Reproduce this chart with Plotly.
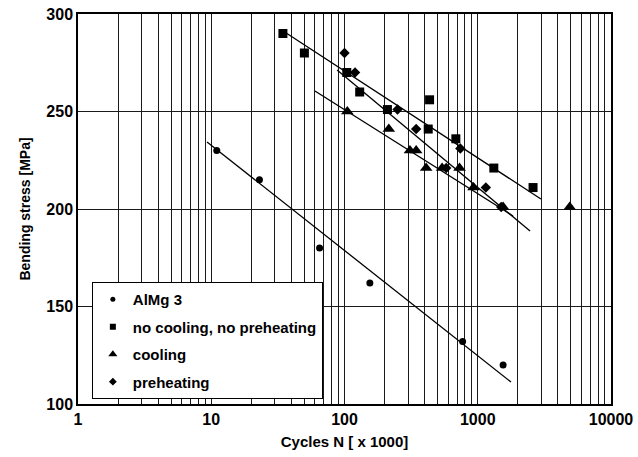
import plotly.graph_objects as go

# S-N data: cycles to failure (x1000) vs bending stress (MPa)
almg_N = [11, 23, 65, 155, 770, 1550]
almg_S = [230, 215, 180, 162, 132, 120]

nocool_N = [34.5, 50, 104, 130, 210, 435, 425, 685, 1320, 2600]
nocool_S = [290, 280, 270, 260, 251, 256, 241, 236, 221, 211]

cool_N = [105, 215, 310, 345, 410, 540, 730, 930, 1550, 4900]
cool_S = [250, 241, 230, 230, 221, 221, 221, 211, 201, 201]

pre_N = [100, 120, 250, 345, 740, 580, 1150, 1500]
pre_S = [280, 270, 251, 241, 231, 221, 211, 201]

# regression lines (end points)
fit_almg_N = [9.3, 1775]
fit_almg_S = [234.4, 111.3]
fit_nocool_N = [34.6, 2980]
fit_nocool_S = [291.3, 205.1]
fit_pre_N = [88, 2470]
fit_pre_S = [271.3, 188.7]
fit_cool_N = [60, 1840]
fit_cool_S = [260.5, 196.4]

x_decades = [1, 10, 100, 1000, 10000]
y_ticks = [100, 150, 200, 250, 300]

names = ["AlMg 3", "no cooling, no preheating", "cooling", "preheating"]
symbols = ["circle", "square", "triangle-up", "diamond"]
sizes = [7, 9, 11, 8]
legend_sizes = [5, 6, 8, 6]

FONT = "Liberation Sans, Arial, sans-serif"

fig = go.Figure()

for fx, fy in [(fit_almg_N, fit_almg_S), (fit_nocool_N, fit_nocool_S),
               (fit_pre_N, fit_pre_S), (fit_cool_N, fit_cool_S)]:
    fig.add_trace(go.Scatter(x=fx, y=fy, mode="lines",
                             line=dict(color="black", width=1.3),
                             showlegend=False, hoverinfo="skip"))

series = [(almg_N, almg_S), (nocool_N, nocool_S), (cool_N, cool_S), (pre_N, pre_S)]
for (sx, sy), nm, sym, sz in zip(series, names, symbols, sizes):
    fig.add_trace(go.Scatter(x=sx, y=sy, mode="markers", name=nm,
                             marker=dict(symbol=sym, size=sz, color="black"),
                             showlegend=False))

# legend entries with smaller symbols
for nm, sym, sz in zip(names, symbols, legend_sizes):
    fig.add_trace(go.Scatter(x=[None], y=[None], mode="markers", name=nm,
                             legendgroup=nm,
                             marker=dict(symbol=sym, size=sz, color="black")))

# log grid: every integer multiple within each decade
grid_vals = []
grid_text = []
for d in x_decades[:-1]:
    for m in range(1, 10):
        grid_vals.append(d * m)
        grid_text.append(str(d) if m == 1 else "")
grid_vals.append(x_decades[-1])
grid_text.append(str(x_decades[-1]))

fig.update_layout(
    width=638, height=457,
    margin=dict(l=78, r=27, t=14, b=53),
    paper_bgcolor="white", plot_bgcolor="white",
    font=dict(family=FONT, size=16, color="black", weight="bold"),
    xaxis=dict(type="log", range=[0, 4], tickvals=grid_vals, ticktext=grid_text,
               showgrid=True, gridcolor="#1a1a1a", gridwidth=1.2,
               showline=True, linecolor="black", linewidth=1.5, mirror=True,
               ticks="", zeroline=False, automargin=False,
               title=dict(text="Cycles N [ x 1000]", standoff=10,
                          font=dict(size=15, weight="bold"))),
    yaxis=dict(range=[100, 300], tickvals=y_ticks,
               showgrid=True, gridcolor="#1a1a1a", gridwidth=1.2,
               showline=True, linecolor="black", linewidth=1.5, mirror=True,
               ticks="", zeroline=False, automargin=False,
               title=dict(text="Bending stress [MPa]", standoff=12,
                          font=dict(size=14, weight="bold"))),
    legend=dict(x=0.026, y=0.313, xanchor="left", yanchor="top",
                bgcolor="white", bordercolor="black", borderwidth=1,
                font=dict(size=15, weight="bold"), tracegroupgap=5,
                itemwidth=30),
)

fig.write_html("out.html")
